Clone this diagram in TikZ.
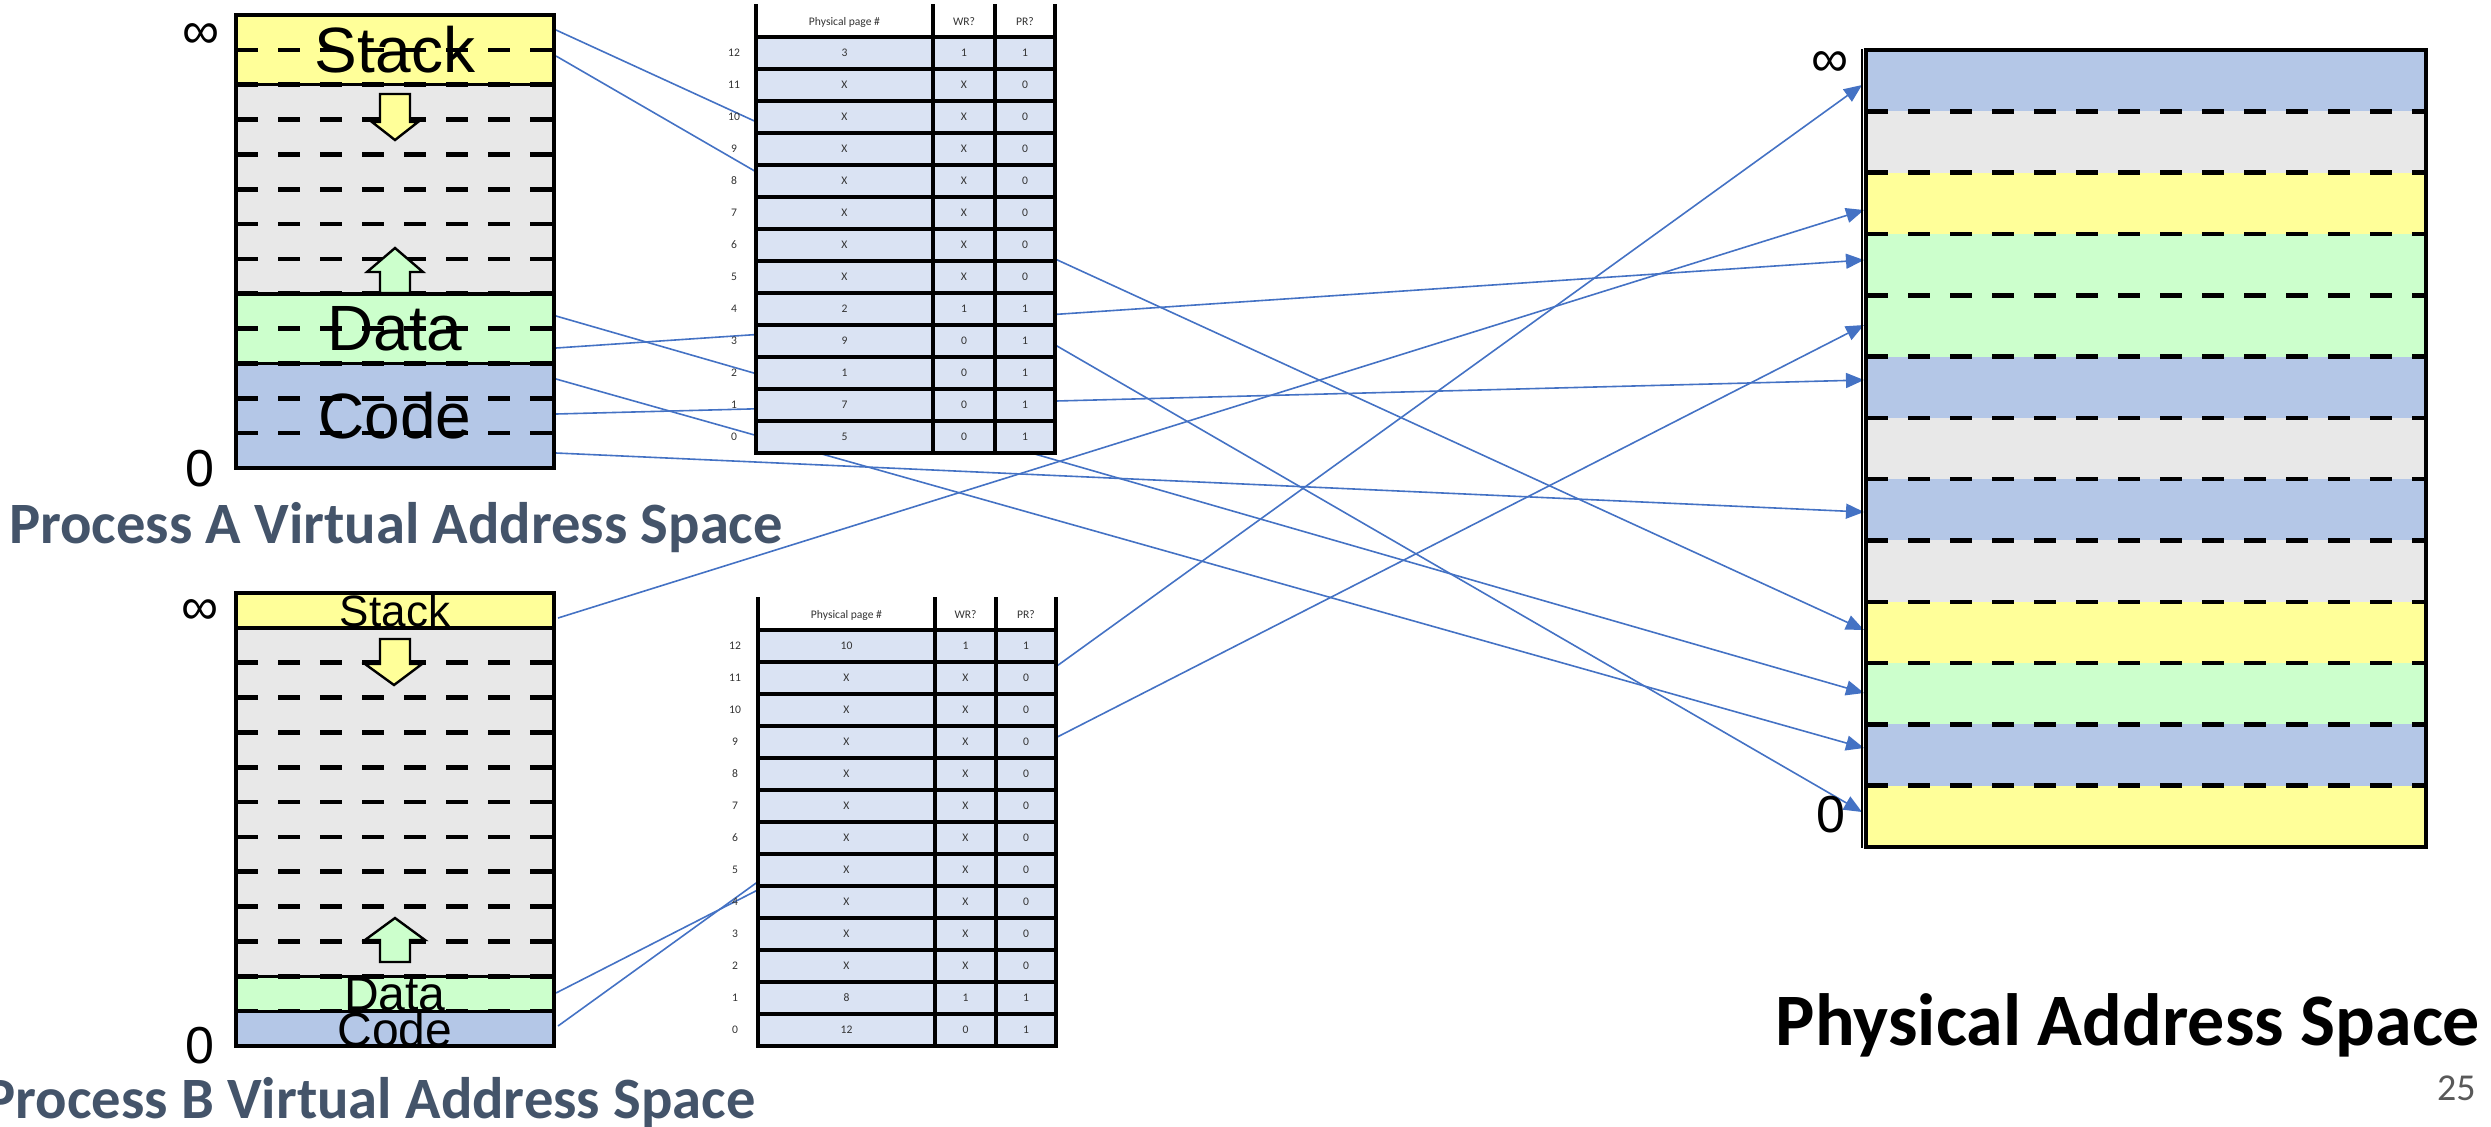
\documentclass[tikz,border=0pt]{standalone}
\usepackage{fontspec}
\setmainfont{Liberation Sans}
\newfontfamily\calibri{Carlito}
\usetikzlibrary{arrows.meta}
\definecolor{stk}{HTML}{FFFF99}
\definecolor{gry}{HTML}{E8E8E8}
\definecolor{dat}{HTML}{CCFFCC}
\definecolor{cod}{HTML}{B4C7E7}
\definecolor{cell}{HTML}{DAE3F3}
\definecolor{lnk}{HTML}{4472C4}
\definecolor{ttl}{HTML}{44546A}
\definecolor{celltext}{HTML}{333333}
\definecolor{pgnum}{HTML}{595959}
\begin{document}
\begin{tikzpicture}[x=0.5pt,y=-0.5pt,
  region/.style={draw=black,line width=1.7pt},
  pagedash/.style={draw=black,line width=2.3pt,dash pattern=on 11pt off 10pt},
  cellline/.style={draw=black,line width=1.6pt,line cap=rect},
  growarrow/.style={draw=black,line width=1.2pt,line join=miter},
  link/.style={draw=lnk,line width=0.8pt,-{Triangle[length=9pt,width=7.5pt]}},
  seglbl/.style={inner sep=0pt,font=\fontsize{32pt}{32pt}\selectfont},
  seglblB/.style={inner sep=0pt,font=\fontsize{22pt}{22pt}\selectfont},
  endlbl/.style={inner sep=0pt,font=\fontsize{26pt}{26pt}\selectfont},
  cellt/.style={inner sep=0pt,text=celltext,font=\calibri\fontsize{5.8pt}{6.5pt}\selectfont},
  title/.style={inner sep=0pt,text=ttl,font=\calibri\bfseries\fontsize{29.3pt}{29.3pt}\selectfont},
]
\useasboundingbox (0,0) rectangle (2491,1126);

% ---------- link end points ----------
\coordinate (A12) at (556,30);
\coordinate (A11) at (556,56);
\coordinate (A4) at (556,316);
\coordinate (A3) at (556,348);
\coordinate (A2) at (556,379);
\coordinate (A1) at (556,414);
\coordinate (A0) at (556,453);
\coordinate (B12) at (558,618);
\coordinate (B1) at (556,993);
\coordinate (B0) at (558,1026);
\coordinate (P12) at (1862,85);
\coordinate (P10) at (1864,210);
\coordinate (P9) at (1864,260);
\coordinate (P8) at (1864,325);
\coordinate (P7) at (1864,380);
\coordinate (P5) at (1864,512);
\coordinate (P3) at (1864,630);
\coordinate (P2) at (1864,693);
\coordinate (P1) at (1864,748);
\coordinate (P0) at (1862,812);

% ---------- links (behind tables) ----------
\draw[link] (A12) -- (P3);
\draw[link] (A11) -- (P0);
\draw[link] (A4) -- (P2);
\draw[link] (A3) -- (P9);
\draw[link] (A2) -- (P1);
\draw[link] (A1) -- (P7);
\draw[link] (A0) -- (P5);
\draw[link] (B12) -- (P10);
\draw[link] (B1) -- (P8);
\draw[link] (B0) -- (P12);

% ---------- Process A virtual address space ----------
\fill[stk] (236,15) rectangle (554,84.7);
\fill[gry] (236,84.7) rectangle (554,293.8);
\fill[dat] (236,293.8) rectangle (554,363.5);
\fill[cod] (236,363.5) rectangle (554,468);
\foreach \k in {1,...,12} \draw[pagedash] (236,{15+34.846*\k}) -- (554,{15+34.846*\k});
\draw[region] (236,15) rectangle (554,84.7);
\draw[region] (236,84.7) rectangle (554,293.8);
\draw[region] (236,293.8) rectangle (554,363.5);
\draw[region] (236,363.5) rectangle (554,468);
\node[seglbl] (Astack) at (395,49.8) {Stack};
\node[seglbl] (Adata) at (395,328.6) {Data};
\node[seglbl] (Acode) at (395,415.7) {Code};
\draw[growarrow,fill=stk] (380,94) -- (410,94) -- (410,122) -- (418,122) -- (395,140) -- (372,122) -- (380,122) -- cycle;
\draw[growarrow,fill=dat] (380,293) -- (410,293) -- (410,272) -- (423,272) -- (395,248) -- (367,272) -- (380,272) -- cycle;
\node[endlbl] (Ainf) at (201,36) {∞};
\node[endlbl] (Azero) at (200,469) {0};
\node[title,anchor=base] (Atitle) at (396,543) {Process A Virtual Address Space};

% ---------- Process B virtual address space ----------
\fill[stk] (236,593) rectangle (554,627.8);
\fill[gry] (236,627.8) rectangle (554,976.3);
\fill[dat] (236,976.3) rectangle (554,1011.2);
\fill[cod] (236,1011.2) rectangle (554,1046);
\foreach \k in {1,...,12} \draw[pagedash] (236,{593+34.846*\k}) -- (554,{593+34.846*\k});
\draw[region] (236,593) rectangle (554,627.8);
\draw[region] (236,627.8) rectangle (554,976.3);
\draw[region] (236,976.3) rectangle (554,1011.2);
\draw[region] (236,1011.2) rectangle (554,1046);
\node[seglblB] (Bstack) at (395,610.4) {Stack};
\node[seglblB,font=\fontsize{24pt}{24pt}\selectfont] (Bdata) at (395,994.5) {Data};
\node[seglblB,font=\fontsize{24pt}{24pt}\selectfont] (Bcode) at (395,1029.5) {Code};
\draw[growarrow,fill=stk] (380,639) -- (410,639) -- (410,664) -- (422,664) -- (394,685) -- (365,664) -- (380,664) -- cycle;
\draw[growarrow,fill=dat] (380,962) -- (410,962) -- (410,940) -- (425,940) -- (395,918) -- (365,940) -- (380,940) -- cycle;
\node[endlbl] (Binf) at (200,612) {∞};
\node[endlbl] (Bzero) at (200,1046) {0};
\node[title,anchor=base] (Btitle) at (370,1118) {Process B Virtual Address Space};

% ---------- Page table A ----------
\fill[cell] (756,37) rectangle (1055,453);
\foreach \k in {0,...,13} \draw[cellline] (756,{37+32*\k}) -- (1055,{37+32*\k});
\foreach \xx in {756,933,995,1055} \draw[cellline] (\xx,6) -- (\xx,453);
\node[cellt] (TAh1) at (844.5,22) {Physical page \#};
\node[cellt] (TAh2) at (964,22) {WR?};
\node[cellt] (TAh3) at (1025,22) {PR?};
\foreach \r/\p/\w/\q in {12/3/1/1,11/X/X/0,10/X/X/0,9/X/X/0,8/X/X/0,7/X/X/0,6/X/X/0,5/X/X/0,4/2/1/1,3/9/0/1,2/1/0/1,1/7/0/1,0/5/0/1}{
  \pgfmathsetmacro\yy{37+32*(12-\r)+16}
  \node[cellt] (TA\r-n) at (734,\yy) {\r};
  \node[cellt] (TA\r-p) at (844.5,\yy) {\p};
  \node[cellt] (TA\r-w) at (964,\yy) {\w};
  \node[cellt] (TA\r-q) at (1025,\yy) {\q};
}

% ---------- Page table B ----------
\fill[cell] (758,630) rectangle (1056,1046);
\foreach \k in {0,...,13} \draw[cellline] (758,{630+32*\k}) -- (1056,{630+32*\k});
\foreach \xx in {758,935,996,1056} \draw[cellline] (\xx,599) -- (\xx,1046);
\node[cellt] (TBh1) at (846.5,615) {Physical page \#};
\node[cellt] (TBh2) at (965.5,615) {WR?};
\node[cellt] (TBh3) at (1026,615) {PR?};
\foreach \r/\p/\w/\q in {12/10/1/1,11/X/X/0,10/X/X/0,9/X/X/0,8/X/X/0,7/X/X/0,6/X/X/0,5/X/X/0,4/X/X/0,3/X/X/0,2/X/X/0,1/8/1/1,0/12/0/1}{
  \pgfmathsetmacro\yy{630+32*(12-\r)+16}
  \node[cellt] (TB\r-n) at (735,\yy) {\r};
  \node[cellt] (TB\r-p) at (846.5,\yy) {\p};
  \node[cellt] (TB\r-w) at (965.5,\yy) {\w};
  \node[cellt] (TB\r-q) at (1026,\yy) {\q};
}

% ---------- Physical address space ----------
\foreach \c [count=\i from 0] in {cod,gry,stk,dat,dat,cod,gry,cod,gry,stk,dat,cod,stk}
  \fill[\c] (1866,{50+61.31*\i}) rectangle (2426,{50+61.31*(\i+1)});
\foreach \k in {1,...,12} \draw[pagedash] (1866,{50+61.31*\k}) -- (2426,{50+61.31*\k});
\draw[region] (1866,50) rectangle (2426,847);
\draw[black,line width=1pt] (1862,49) -- (1862,848);
\node[endlbl] (Pinf) at (1830,64) {∞};
\node[endlbl] (Pzero) at (1831,815) {0};
\node[title,text=black,font=\calibri\bfseries\fontsize{37pt}{37pt}\selectfont,anchor=base] (Ptitle) at (2128,1045) {Physical Address Space};
\node[inner sep=0pt,text=pgnum,font=\calibri\fontsize{19pt}{19pt}\selectfont,anchor=base east] (pgno) at (2476,1100) {25};
\end{tikzpicture}
\end{document}
